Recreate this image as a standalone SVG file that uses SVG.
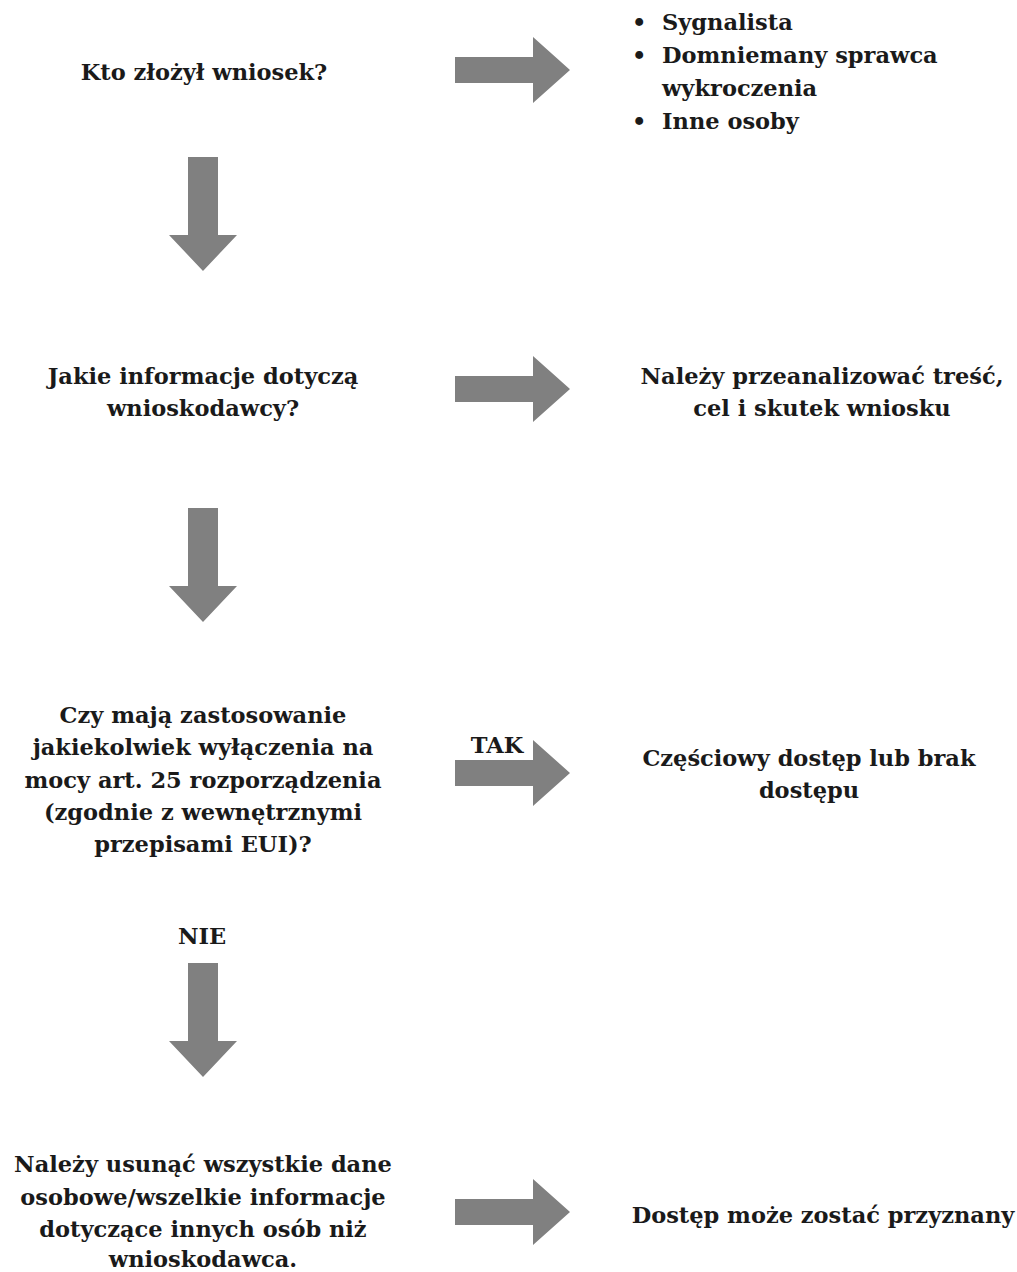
<svg xmlns="http://www.w3.org/2000/svg" width="1017" height="1272" viewBox="0 0 1017 1272">
<style>
  .t { font-family: "DejaVu Serif", "Liberation Serif", serif; font-weight: bold; font-size: 22.5px; fill: #1a1a1a; text-anchor: middle; }
  .l { text-anchor: start; }
  .arr { fill: #808080; }
</style>
<defs>
  <polygon id="rarrow" class="arr" points="0,-13 78,-13 78,-33 115,0 78,33 78,13 0,13"/>
  <polygon id="darrow" class="arr" points="-15,0 15,0 15,78 34,78 0,114 -34,78 -15,78"/>
</defs>
<rect width="1017" height="1272" fill="#ffffff"/>

<g id="connectors">
  <use href="#rarrow" x="455" y="70"/>
  <use href="#rarrow" x="455" y="389"/>
  <use href="#rarrow" x="455" y="773"/>
  <use href="#rarrow" x="455" y="1212"/>
  <use href="#darrow" x="203" y="157"/>
  <use href="#darrow" x="203" y="508"/>
  <use href="#darrow" x="203" y="963"/>
  <text class="t" x="497" y="753">TAK</text>
  <text class="t" x="202" y="944">NIE</text>
</g>

<g id="node-kto">
  <text class="t" x="204" y="80">Kto złożył wniosek?</text>
</g>

<g id="node-osoby">
  <text class="t l" x="632" y="30">•</text>
  <text class="t l" x="662" y="30">Sygnalista</text>
  <text class="t l" x="632" y="63">•</text>
  <text class="t l" x="662" y="63">Domniemany sprawca</text>
  <text class="t l" x="662" y="96">wykroczenia</text>
  <text class="t l" x="632" y="129">•</text>
  <text class="t l" x="662" y="129">Inne osoby</text>
</g>

<g id="node-jakie">
  <text class="t" x="203" y="384">Jakie informacje dotyczą</text>
  <text class="t" x="203" y="416">wnioskodawcy?</text>
</g>

<g id="node-analiza">
  <text class="t" x="822" y="384">Należy przeanalizować treść,</text>
  <text class="t" x="822" y="416">cel i skutek wniosku</text>
</g>

<g id="node-wylaczenia">
  <text class="t" x="203" y="723">Czy mają zastosowanie</text>
  <text class="t" x="203" y="755">jakiekolwiek wyłączenia na</text>
  <text class="t" x="203" y="788">mocy art. 25 rozporządzenia</text>
  <text class="t" x="203" y="820">(zgodnie z wewnętrznymi</text>
  <text class="t" x="203" y="852">przepisami EUI)?</text>
</g>

<g id="node-czesciowy">
  <text class="t" x="809" y="766">Częściowy dostęp lub brak</text>
  <text class="t" x="809" y="798">dostępu</text>
</g>

<g id="node-usunac">
  <text class="t" x="203" y="1172">Należy usunąć wszystkie dane</text>
  <text class="t" x="203" y="1205">osobowe/wszelkie informacje</text>
  <text class="t" x="203" y="1237">dotyczące innych osób niż</text>
  <text class="t" x="203" y="1267">wnioskodawca.</text>
</g>

<g id="node-dostep">
  <text class="t" x="823" y="1223">Dostęp może zostać przyznany</text>
</g>
</svg>
